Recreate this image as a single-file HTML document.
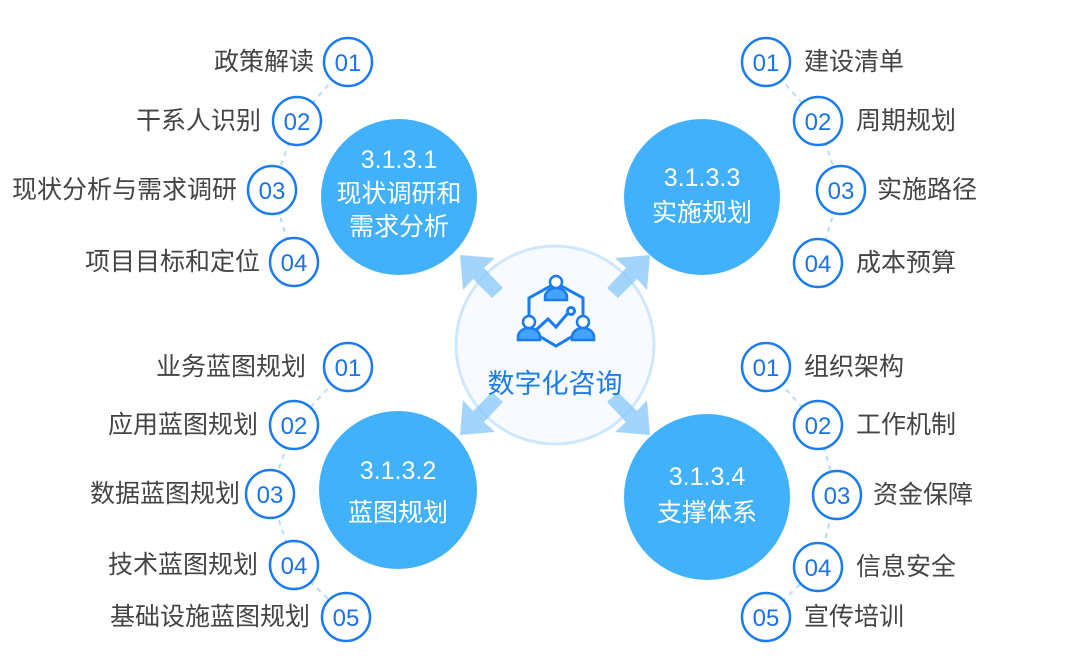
<!DOCTYPE html>
<html><head><meta charset="utf-8"><style>
html,body{margin:0;padding:0;background:#fff;}
svg{display:block;}
text{font-family:"Liberation Sans","Noto Sans CJK SC",sans-serif;}
.l{font-size:25px;fill:#444;}
.n{font-size:24px;fill:#1a73e8;}
.c{fill:#fff;stroke:#1a7cf0;stroke-width:2.5;}
.d{stroke:#b8dcfb;stroke-width:2;stroke-dasharray:5 5;fill:none;}
.w{font-size:25px;fill:#fff;}
</style></head><body>
<svg width="1080" height="661" viewBox="0 0 1080 661">
<polyline class="d" points="348,62 297,121 272,190 294,262"/>
<polyline class="d" points="766,62 818,121 841,190 818,263"/>
<polyline class="d" points="348,367 294,425 270,494 294,565 346,617"/>
<polyline class="d" points="766,367 818,425 837,494 818,567 766,617"/>
<circle cx="555" cy="345" r="99" fill="#f7faff" stroke="#cfe7fd" stroke-width="3"/>
<g fill="#8ccbfb" opacity="0.8">
<polygon points="460,255 495,258 484,268 503,288 492,298 473,279 463,290"/>
<polygon points="650,255 615,258 626,268 607,288 618,298 637,279 647,290"/>
<polygon points="460,435 495,432 484,422 503,402 492,392 473,411 463,400"/>
<polygon points="650,435 615,432 626,422 607,402 618,392 637,411 647,400"/>
</g>
<circle cx="399" cy="197" r="78" fill="#42b1fc"/>
<circle cx="702" cy="197" r="78" fill="#42b1fc"/>
<circle cx="398" cy="490" r="79" fill="#42b1fc"/>
<circle cx="707" cy="497" r="83" fill="#42b1fc"/>
<text class="w" x="399" y="168" text-anchor="middle">3.1.3.1</text>
<text class="w" x="399" y="202" text-anchor="middle">现状调研和</text>
<text class="w" x="399" y="235" text-anchor="middle">需求分析</text>
<text class="w" x="702" y="186" text-anchor="middle">3.1.3.3</text>
<text class="w" x="702" y="221" text-anchor="middle">实施规划</text>
<text class="w" x="398" y="479" text-anchor="middle">3.1.3.2</text>
<text class="w" x="398" y="521" text-anchor="middle">蓝图规划</text>
<text class="w" x="707" y="485" text-anchor="middle">3.1.3.4</text>
<text class="w" x="707" y="521" text-anchor="middle">支撑体系</text>
<g stroke="#1a7cf0" stroke-width="3" fill="none">
<polygon points="556,283 583,298 583,330 556,346 529,330 529,298"/>
<polyline points="536,330 548,319 556,327 568,313"/>
<circle cx="571" cy="311" r="3.5"/>
</g>
<g fill="#42a5fb" stroke="#1a7cf0" stroke-width="2.5">
<path d="M545,297 a11,9 0 0 1 22,0 v3 h-22z"/><circle cx="556" cy="282" r="6" fill="#fff"/>
<path d="M518,337 a11,9 0 0 1 22,0 v3 h-22z"/><circle cx="529" cy="322" r="6" fill="#fff"/>
<path d="M572,337 a11,9 0 0 1 22,0 v3 h-22z"/><circle cx="583" cy="322" r="6" fill="#fff"/>
</g>
<text x="555" y="393" text-anchor="middle" style="font-size:27px;fill:#1a7cf0;">数字化咨询</text>
<g>
<circle class="c" cx="348" cy="62" r="24"/><text class="n" x="348" y="71" text-anchor="middle">01</text>
<circle class="c" cx="297" cy="121" r="24"/><text class="n" x="297" y="130" text-anchor="middle">02</text>
<circle class="c" cx="272" cy="190" r="24"/><text class="n" x="272" y="199" text-anchor="middle">03</text>
<circle class="c" cx="294" cy="262" r="24"/><text class="n" x="294" y="271" text-anchor="middle">04</text>
<circle class="c" cx="766" cy="62" r="24"/><text class="n" x="766" y="71" text-anchor="middle">01</text>
<circle class="c" cx="818" cy="121" r="24"/><text class="n" x="818" y="130" text-anchor="middle">02</text>
<circle class="c" cx="841" cy="190" r="24"/><text class="n" x="841" y="199" text-anchor="middle">03</text>
<circle class="c" cx="818" cy="263" r="24"/><text class="n" x="818" y="272" text-anchor="middle">04</text>
<circle class="c" cx="348" cy="367" r="24"/><text class="n" x="348" y="376" text-anchor="middle">01</text>
<circle class="c" cx="294" cy="425" r="24"/><text class="n" x="294" y="434" text-anchor="middle">02</text>
<circle class="c" cx="270" cy="494" r="24"/><text class="n" x="270" y="503" text-anchor="middle">03</text>
<circle class="c" cx="294" cy="565" r="24"/><text class="n" x="294" y="574" text-anchor="middle">04</text>
<circle class="c" cx="346" cy="617" r="24"/><text class="n" x="346" y="626" text-anchor="middle">05</text>
<circle class="c" cx="766" cy="367" r="24"/><text class="n" x="766" y="376" text-anchor="middle">01</text>
<circle class="c" cx="818" cy="425" r="24"/><text class="n" x="818" y="434" text-anchor="middle">02</text>
<circle class="c" cx="837" cy="495" r="24"/><text class="n" x="837" y="504" text-anchor="middle">03</text>
<circle class="c" cx="818" cy="567" r="24"/><text class="n" x="818" y="576" text-anchor="middle">04</text>
<circle class="c" cx="766" cy="617" r="24"/><text class="n" x="766" y="626" text-anchor="middle">05</text>
</g>
<g class="l" text-anchor="end">
<text x="314" y="70">政策解读</text>
<text x="261" y="129">干系人识别</text>
<text x="237" y="198">现状分析与需求调研</text>
<text x="260" y="270">项目目标和定位</text>
<text x="306" y="375">业务蓝图规划</text>
<text x="258" y="433">应用蓝图规划</text>
<text x="240" y="502">数据蓝图规划</text>
<text x="258" y="573">技术蓝图规划</text>
<text x="310" y="625">基础设施蓝图规划</text>
</g>
<g class="l">
<text x="804" y="70">建设清单</text>
<text x="856" y="129">周期规划</text>
<text x="877" y="198">实施路径</text>
<text x="856" y="271">成本预算</text>
<text x="804" y="375">组织架构</text>
<text x="856" y="433">工作机制</text>
<text x="873" y="503">资金保障</text>
<text x="856" y="575">信息安全</text>
<text x="804" y="625">宣传培训</text>
</g>
</svg>
</body></html>
